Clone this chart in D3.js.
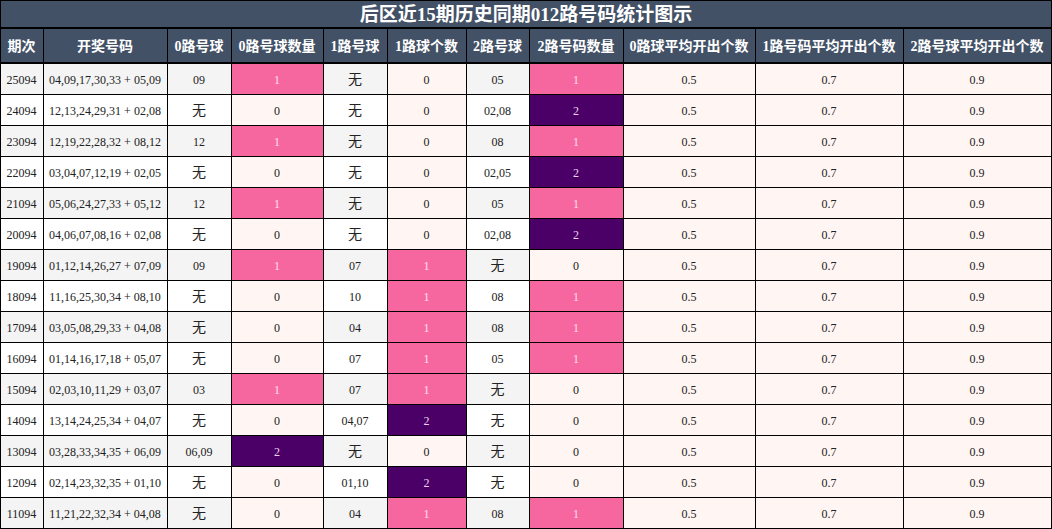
<!DOCTYPE html>
<html><head><meta charset="utf-8">
<script src="https://cdn.jsdelivr.net/npm/d3@7"></script>
<style>body{margin:0;background:#fff}text{font-family:"Liberation Serif","Noto Sans CJK SC",serif}</style>
</head><body><svg id="c" width="1052" height="529"></svg>
<script>
const title = '后区近15期历史同期012路号码统计图示'
const headers = ['期次','开奖号码','0路号球','0路号球数量','1路号球','1路球个数','2路号球','2路号码数量','0路球平均开出个数','1路号码平均开出个数','2路号球平均开出个数']
const colEdges = [0,43,167,231,323,387,466,529,623,755,903,1051]
const periods = ['25094','24094','23094','22094','21094','20094','19094','18094','17094','16094','15094','14094','13094','12094','11094']
const draws = ['04,09,17,30,33 + 05,09','12,13,24,29,31 + 02,08','12,19,22,28,32 + 08,12','03,04,07,12,19 + 02,05','05,06,24,27,33 + 05,12','04,06,07,08,16 + 02,08','01,12,14,26,27 + 07,09','11,16,25,30,34 + 08,10','03,05,08,29,33 + 04,08','01,14,16,17,18 + 05,07','02,03,10,11,29 + 03,07','13,14,24,25,34 + 04,07','03,28,33,34,35 + 06,09','02,14,23,32,35 + 01,10','11,21,22,32,34 + 04,08']
const road0 = ['09','无','12','无','12','无','09','无','无','无','03','无','06,09','无','无']
const road1 = ['无','无','无','无','无','无','07','10','04','07','07','04,07','无','01,10','04']
const road2 = ['05','02,08','08','02,05','05','02,08','无','08','08','05','无','无','无','无','08']
const count0 = [1,0,1,0,1,0,1,0,0,0,1,0,2,0,0]
const count1 = [0,0,0,0,0,0,1,1,1,1,1,2,0,2,1]
const count2 = [1,2,1,2,1,2,0,1,1,1,0,0,0,0,1]
const avg0 = 0.5, avg1 = 0.7, avg2 = 0.9

const svg = d3.select('#c')
const y = d3.scaleBand().domain(d3.range(periods.length)).range([63,528])
const countFill = d3.scaleOrdinal().domain([0,1,2]).range(['#fff5f3','#f7679f','#4a0066'])
const countText = d3.scaleOrdinal().domain([0,1,2]).range(['#222','#ffe0ec','#f0d0f0'])

svg.append('rect').attr('width',1052).attr('height',529).attr('fill','#000')
svg.append('rect').attr('x',1).attr('y',1).attr('width',1050).attr('height',26).attr('fill','#425166')
svg.append('text').attr('x',526).attr('y',21).attr('text-anchor','middle').attr('fill','#fff')
  .attr('font-size',19).attr('font-weight','bold').text(title)

headers.forEach((h,i)=>{
  svg.append('rect').attr('x',colEdges[i]+1).attr('y',29).attr('width',colEdges[i+1]-colEdges[i]-1).attr('height',33).attr('fill','#425166')
  svg.append('text').attr('x',(colEdges[i]+colEdges[i+1])/2).attr('y',51).attr('text-anchor','middle')
    .attr('fill','#fff').attr('font-size',14).attr('font-weight','bold').text(h)
})

const rows = periods.map((p,i)=>[
  {t:p},{t:draws[i]},{t:road0[i]},{t:count0[i],c:count0[i]},{t:road1[i]},{t:count1[i],c:count1[i]},
  {t:road2[i]},{t:count2[i],c:count2[i]},{t:avg0,a:1},{t:avg1,a:1},{t:avg2,a:1}])

const g = svg.selectAll('g.row').data(rows).join('g').attr('class','row')
  .attr('transform',(d,i)=>`translate(0,${y(i)})`)
g.each(function(r,ri){
  const row = d3.select(this)
  r.forEach((cell,ci)=>{
    const fill = cell.c!==undefined ? countFill(cell.c) : cell.a ? '#fff5f3' : (ri%2===0 ? '#f4f4f4' : '#ffffff')
    row.append('rect').attr('x',colEdges[ci]+1).attr('y',1).attr('width',colEdges[ci+1]-colEdges[ci]-1)
      .attr('height',y.bandwidth()-1).attr('fill',fill)
    row.append('text').attr('x',(colEdges[ci]+colEdges[ci+1])/2).attr('y',y.bandwidth()/2+5)
      .attr('text-anchor','middle').attr('font-size',cell.t==='无'?14:12)
      .attr('fill',cell.c!==undefined ? countText(cell.c) : '#222').text(cell.t)
  })
})
</script></body></html>
